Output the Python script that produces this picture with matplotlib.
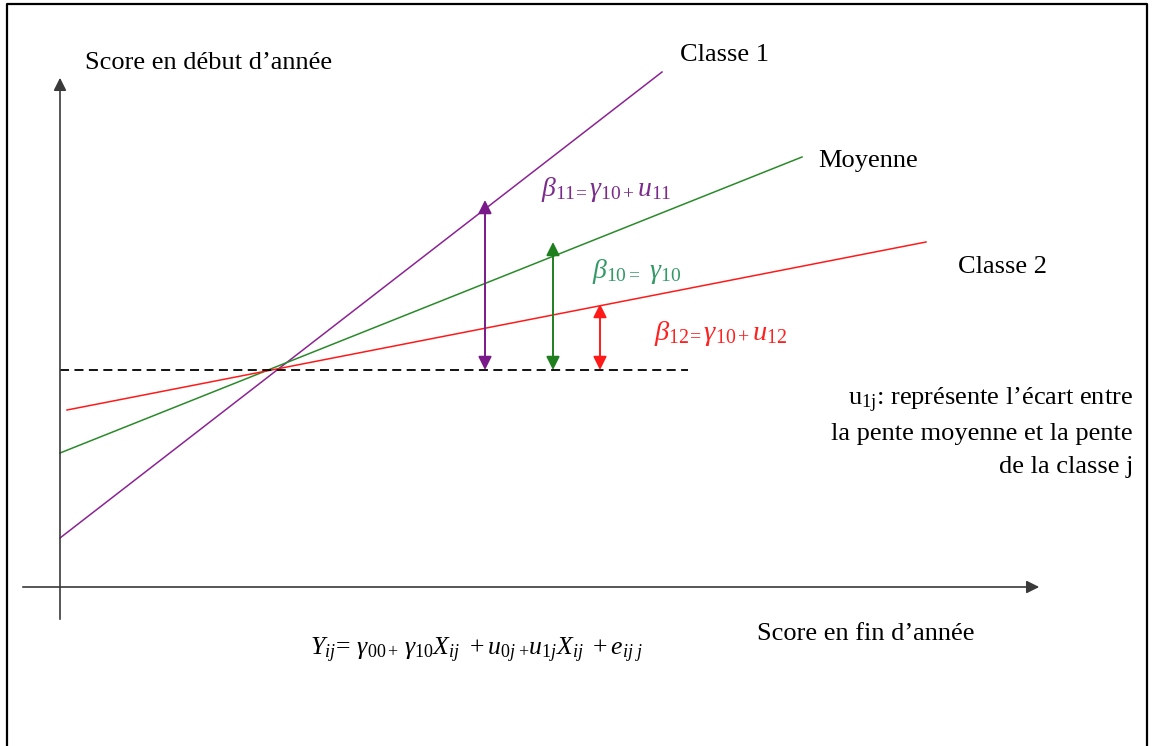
import matplotlib.pyplot as plt
from matplotlib.lines import Line2D

plt.rcParams['font.family'] = ['Liberation Serif', 'DejaVu Serif']
plt.rcParams['mathtext.fontset'] = 'custom'
plt.rcParams['mathtext.rm'] = 'Liberation Serif'
plt.rcParams['mathtext.it'] = 'Liberation Serif:italic'
plt.rcParams['mathtext.bf'] = 'Liberation Serif:bold'

# diagram coordinates: origin where the two axes cross
line_names = ['Classe 1', 'Moyenne', 'Classe 2']
line_x0 = [0, 0, 7]
line_y0 = [49, 134, 177]
line_x1 = [602, 742, 866]
line_y1 = [515, 430, 345]
line_colors = ['#8b2394', '#2a8a2a', '#ff1a1a']

baseline_y = 217
baseline_x = [0, 628]

arrow_x = [425, 493, 540]
arrow_top = [387, 345, 283]
arrow_colors = ['#7a1a8a', '#1f7f1f', '#ff1a1a']

beta_labels = [r'$\beta_{\mathit{11}\!=}\gamma_{\mathit{10}+}u_{\mathit{11}}$',
               r'$\beta_{\mathit{10}=}\ \gamma_{\mathit{10}}$',
               r'$\beta_{\mathit{12}\!=}\gamma_{\mathit{10}+}u_{\mathit{12}}$']
beta_colors = ['#7b2b8b', '#339966', '#ff2020']

fig = plt.figure(figsize=(11.52, 7.46), dpi=100)
ax = fig.add_axes([0, 0, 1, 1])
ax.set_xlim(-60, 1092)
ax.set_ylim(-159, 587)
ax.axis('off')

# frame of the picture
fig.add_artist(Line2D([7 / 1152, 7 / 1152, 1147 / 1152, 1147 / 1152],
                      [0, 1 - 4 / 746, 1 - 4 / 746, 0], color='black', lw=1.6))

# axes
axis_col = '#3a3a3a'
ax.annotate('', xy=(0, 512), xytext=(0, -35),
            arrowprops=dict(arrowstyle='-|>', color=axis_col, lw=1.2, mutation_scale=19))
ax.annotate('', xy=(982, 0), xytext=(-40, 0),
            arrowprops=dict(arrowstyle='-|>', color=axis_col, lw=1.2, mutation_scale=19))

for x0, y0, x1, y1, c in zip(line_x0, line_y0, line_x1, line_y1, line_colors):
    ax.plot([x0, x1], [y0, y1], color=c, lw=1.1)

ax.plot(baseline_x, [baseline_y, baseline_y], color='black', lw=1.3, ls=(0, (5, 3)))

for x, top, c in zip(arrow_x, arrow_top, arrow_colors):
    ax.annotate('', xy=(x, top), xytext=(x, baseline_y),
                arrowprops=dict(arrowstyle='<|-|>', color=c, lw=1.4, mutation_scale=20,
                                shrinkA=0, shrinkB=0))

# labels
ax.text(25, 524, 'Score en début d’année', fontsize=19, va='center')
ax.text(620, 532, line_names[0], fontsize=19, va='center')
ax.text(758, 426, line_names[1], fontsize=19, va='center')
ax.text(898, 320, line_names[2], fontsize=19, va='center')

ax.text(481, 398, beta_labels[0], fontsize=20, color=beta_colors[0], va='center')
ax.text(532, 315, beta_labels[1], fontsize=20, color=beta_colors[1], va='center')
ax.text(594, 253, beta_labels[2], fontsize=20.5, color=beta_colors[2], va='center')

ax.text(1073, 187, r'u$_{\mathrm{1j}}$: représente l’écart entre', fontsize=19, ha='right', va='center')
ax.text(1073, 153, 'la pente moyenne et la pente', fontsize=19, ha='right', va='center')
ax.text(1073, 120, 'de la classe j', fontsize=19, ha='right', va='center')

ax.text(697, -47, 'Score en fin d’année', fontsize=19, va='center')
ax.text(250, -63, r'$Y_{ij}\!=\,\gamma_{\mathit{00}+}\,\gamma_{\mathit{10}}X_{ij}\ +u_{\mathit{0}j}\,_{+}'
                  r'u_{\mathit{1}j}X_{ij}\ +e_{ij\ j}$',
        fontsize=18.5, va='center')

fig.savefig('out.png', dpi=100)
